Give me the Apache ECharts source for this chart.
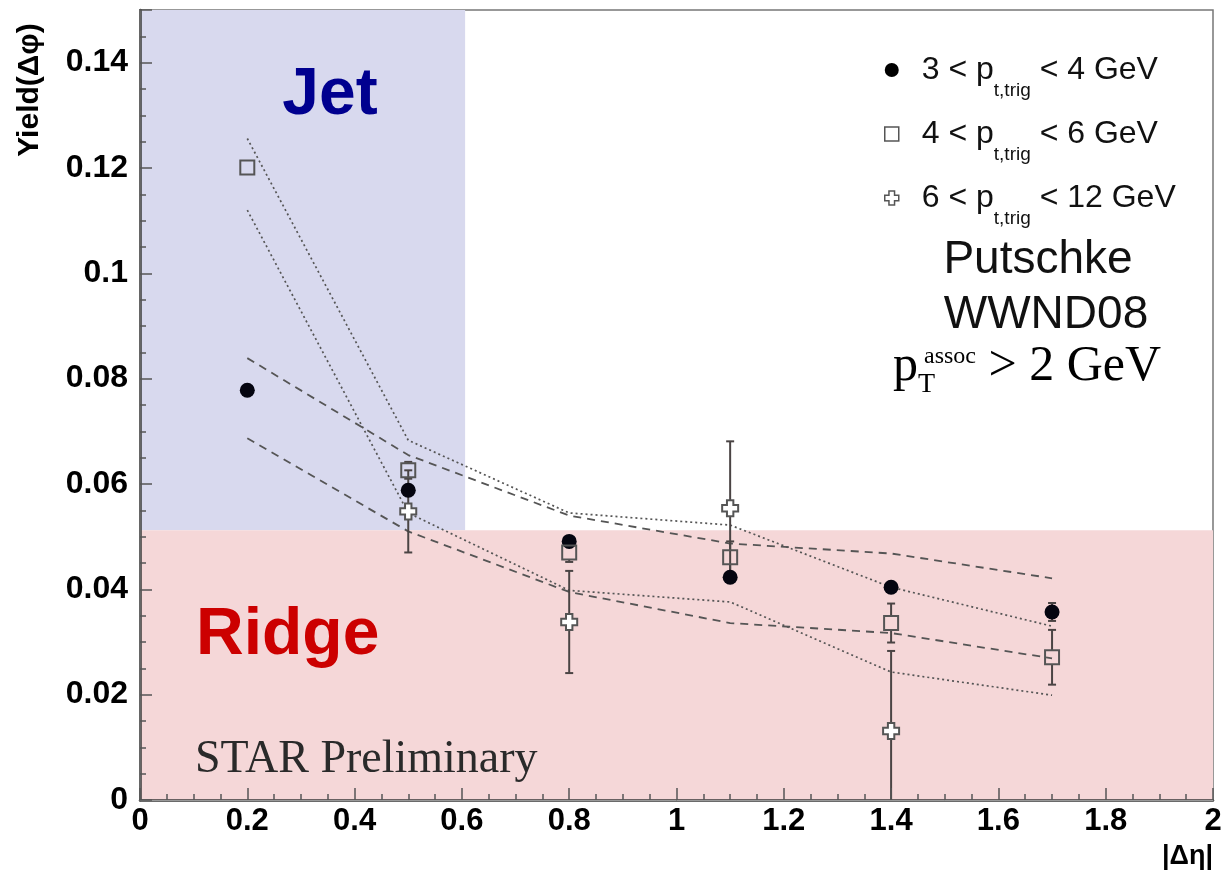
<!DOCTYPE html>
<html>
<head>
<meta charset="utf-8">
<script src="https://cdn.jsdelivr.net/npm/echarts@6/dist/echarts.min.js"></script>
<style>
  html, body { margin: 0; padding: 0; background: #fff; }
  #chart { width: 1226px; height: 871px; }
</style>
</head>
<body>
<div id="chart"></div>
<script>
// |delta eta| bins
const etaBins = [0.2, 0.5, 0.8, 1.1, 1.4, 1.7];
// 3 < pt,trig < 4 GeV
const yield34 = [0.0778, 0.0588, 0.0491, 0.0423, 0.0404, 0.0357];
const err34 = [0.001, 0.001, 0.001, 0.001, 0.001, 0.0017];
// 4 < pt,trig < 6 GeV
const yield46 = [0.1201, 0.0626, 0.0470, 0.0461, 0.0336, 0.0271];
const err46 = [0.001, 0.0016, 0.0018, 0.0030, 0.0037, 0.0052];
// 6 < pt,trig < 12 GeV
const eta612 = [0.5, 0.8, 1.1, 1.4];
const yield612 = [0.0548, 0.0338, 0.0554, 0.0131];
const err612 = [0.0078, 0.0097, 0.0127, 0.0152];
// model curves
const dashHigh = [0.0839, 0.0655, 0.0540, 0.0487, 0.0468, 0.0421];
const dashLow = [0.0687, 0.0510, 0.0395, 0.0336, 0.0317, 0.0269];
const dotHigh = [0.1256, 0.0683, 0.0545, 0.0522, 0.0404, 0.0330];
const dotLow = [0.1120, 0.0545, 0.0398, 0.0376, 0.0243, 0.0199];
// shaded regions [x0, x1, y0, y1]
const jetBox = [0, 0.606, 0.0512, 0.15];
const ridgeBox = [0, 2, 0, 0.0512];

const legendText = {
  '3-4': '{gap| }3 < p{sub|t,trig} < 4 GeV',
  '4-6': '{gap| }4 < p{sub|t,trig} < 6 GeV',
  '6-12': '{gap| }6 < p{sub|t,trig} < 12 GeV'
};
const crossPath = 'path://M-1.2,-3L1.2,-3L1.2,-1.2L3,-1.2L3,1.2L1.2,1.2L1.2,3L-1.2,3L-1.2,1.2L-3,1.2L-3,-1.2L-1.2,-1.2Z';
const sans = 'Liberation Sans, Arial, sans-serif';
const serif = 'Liberation Serif, Times New Roman, serif';
const ink = '#4a4444';

function pairs(xs, ys) {
  return xs.map((x, i) => [x, ys[i]]);
}

function errorBars(xs, ys, es, r) {
  return {
    type: 'custom',
    silent: true,
    z: 4,
    data: xs.map((x, i) => [x, ys[i], es[i]]),
    renderItem: function (params, api) {
      const x = api.value(0), y = api.value(1), e = api.value(2);
      const mid = api.coord([x, y]);
      const top = api.coord([x, y + e]);
      const bot = api.coord([x, Math.max(y - e, 0)]);
      const style = { stroke: ink, lineWidth: 2 };
      const kids = [];
      if (top[1] < mid[1] - r) {
        kids.push({ type: 'line', shape: { x1: mid[0], y1: top[1], x2: mid[0], y2: mid[1] - r }, style: style });
        kids.push({ type: 'line', shape: { x1: mid[0] - 4, y1: top[1], x2: mid[0] + 4, y2: top[1] }, style: style });
      }
      if (bot[1] > mid[1] + r) {
        kids.push({ type: 'line', shape: { x1: mid[0], y1: mid[1] + r, x2: mid[0], y2: bot[1] }, style: style });
        if (y - e > 0) {
          kids.push({ type: 'line', shape: { x1: mid[0] - 4, y1: bot[1], x2: mid[0] + 4, y2: bot[1] }, style: style });
        }
      }
      return { type: 'group', children: kids };
    }
  };
}

function modelLine(vals, dash, w) {
  return {
    type: 'line',
    data: pairs(etaBins, vals),
    symbol: 'none',
    silent: true,
    z: 3,
    lineStyle: { color: '#555', width: w, type: dash }
  };
}

const chart = echarts.init(document.getElementById('chart'));

const option = {
  backgroundColor: '#fff',
  animation: false,
  grid: { left: 140, right: 13, top: 10, bottom: 71, show: true, borderColor: '#777', borderWidth: 1.5 },
  legend: {
    orient: 'vertical',
    left: 879,
    top: 35,
    itemWidth: 14,
    itemHeight: 14,
    itemGap: 4,
    selectedMode: false,
    data: [
      { name: '3-4', icon: 'circle', itemStyle: { color: '#000', borderWidth: 0 } },
      { name: '4-6', icon: 'rect', itemStyle: { color: 'rgba(0,0,0,0)', borderColor: '#555', borderWidth: 1.5 } },
      { name: '6-12', icon: crossPath, itemStyle: { color: '#fff', borderColor: '#555', borderWidth: 1.5 } }
    ],
    formatter: function (n) { return legendText[n]; },
    textStyle: {
      fontFamily: sans,
      fontSize: 32,
      color: '#111',
      lineHeight: 60,
      rich: {
        gap: { width: 18, fontSize: 10 },
        sub: { fontSize: 19, fontFamily: sans, color: '#111', lineHeight: 22, verticalAlign: 'bottom' }
      }
    }
  },
  xAxis: [{
    type: 'value',
    min: 0,
    max: 2,
    interval: 0.2,
    z: 5,
    axisLine: { show: true, onZero: false, lineStyle: { color: '#3a3a3a', width: 2.5 } },
    axisTick: { show: true, inside: true, length: 12, lineStyle: { color: '#555', width: 1.5 } },
    minorTick: { show: true, splitNumber: 4, length: 6, lineStyle: { color: '#555', width: 1.5 } },
    splitLine: { show: false },
    axisLabel: { fontFamily: sans, fontWeight: 'bold', fontSize: 31, color: '#000', margin: 6 }
  }, {
    type: 'value',
    position: 'top',
    min: 0,
    max: 2,
    z: 5,
    axisLine: { show: true, lineStyle: { color: '#999', width: 1 } },
    axisTick: { show: false },
    axisLabel: { show: false },
    splitLine: { show: false }
  }],
  yAxis: [{
    type: 'value',
    min: 0,
    max: 0.15,
    interval: 0.02,
    z: 5,
    axisLine: { show: true, onZero: false, lineStyle: { color: '#3a3a3a', width: 2.5 } },
    axisTick: { show: true, inside: true, length: 12, lineStyle: { color: '#555', width: 1.5 } },
    minorTick: { show: true, splitNumber: 4, length: 6, lineStyle: { color: '#555', width: 1.5 } },
    splitLine: { show: false },
    axisLabel: { fontFamily: sans, fontWeight: 'bold', fontSize: 32, color: '#000', margin: 12, showMaxLabel: false }
  }, {
    type: 'value',
    position: 'right',
    min: 0,
    max: 0.15,
    z: 5,
    axisLine: { show: true, lineStyle: { color: '#666', width: 2 } },
    axisTick: { show: false },
    axisLabel: { show: false },
    splitLine: { show: false }
  }],
  series: [
    {
      type: 'line',
      data: [],
      silent: true,
      z: 1,
      markArea: {
        silent: true,
        data: [
          [{ xAxis: jetBox[0], yAxis: jetBox[2], itemStyle: { color: '#d8d9ee' } }, { xAxis: jetBox[1], yAxis: jetBox[3] }],
          [{ xAxis: ridgeBox[0], yAxis: ridgeBox[2], itemStyle: { color: '#f5d7d8' } }, { xAxis: ridgeBox[1], yAxis: ridgeBox[3] }]
        ]
      }
    },
    modelLine(dashHigh, [8, 6], 1.8),
    modelLine(dashLow, [8, 6], 1.8),
    modelLine(dotHigh, [2, 3], 1.7),
    modelLine(dotLow, [2, 3], 1.7),
    errorBars(etaBins, yield34, err34, 7),
    errorBars(etaBins, yield46, err46, 7),
    errorBars(eta612, yield612, err612, 8),
    {
      name: '3-4',
      type: 'scatter',
      z: 6,
      symbol: 'circle',
      symbolSize: 15,
      data: pairs(etaBins, yield34),
      itemStyle: { color: '#050510', opacity: 1 }
    },
    {
      name: '4-6',
      type: 'scatter',
      z: 6,
      symbol: 'rect',
      symbolSize: 14,
      data: pairs(etaBins, yield46),
      itemStyle: { color: 'rgba(0,0,0,0)', borderColor: '#555', borderWidth: 2, opacity: 1 }
    },
    {
      name: '6-12',
      type: 'scatter',
      z: 6,
      symbol: crossPath,
      symbolSize: 16,
      data: pairs(eta612, yield612),
      itemStyle: { color: '#fff', borderColor: '#555', borderWidth: 2, opacity: 1 }
    }
  ],
  graphic: [
    {
      type: 'text', x: 330, y: 96, z: 10, silent: true,
      style: { text: 'Jet', fontFamily: sans, fontWeight: 'bold', fontSize: 66, fill: '#00008f', align: 'center', verticalAlign: 'middle' }
    },
    {
      type: 'text', x: 196, y: 636, z: 10, silent: true,
      style: { text: 'Ridge', fontFamily: sans, fontWeight: 'bold', fontSize: 66, fill: '#cc0000', align: 'left', verticalAlign: 'middle' }
    },
    {
      type: 'text', x: 195, y: 760, z: 10, silent: true,
      style: { text: 'STAR Preliminary', fontFamily: serif, fontSize: 46, fill: '#2a2a2a', align: 'left', verticalAlign: 'middle' }
    },
    {
      type: 'text', x: 1038, y: 260, z: 10, silent: true,
      style: { text: 'Putschke', fontFamily: sans, fontSize: 46, fill: '#111', align: 'center', verticalAlign: 'middle' }
    },
    {
      type: 'text', x: 1046, y: 315, z: 10, silent: true,
      style: { text: 'WWND08', fontFamily: sans, fontSize: 46, fill: '#111', align: 'center', verticalAlign: 'middle' }
    },
    {
      type: 'text', x: 893, y: 367, z: 10, silent: true,
      style: {
        text: '{p|p}{t|T}{a|assoc}{g| > 2 GeV}',
        align: 'left',
        verticalAlign: 'middle',
        rich: {
          p: { fontFamily: serif, fontSize: 50, fill: '#000', lineHeight: 64, verticalAlign: 'middle' },
          t: { fontFamily: serif, fontSize: 28, fill: '#000', lineHeight: 26, verticalAlign: 'bottom', width: 6 },
          a: { fontFamily: serif, fontSize: 24, fill: '#000', lineHeight: 30, verticalAlign: 'top', padding: [10, 0, 0, 0] },
          g: { fontFamily: serif, fontSize: 50, fill: '#000', lineHeight: 64, verticalAlign: 'middle' }
        }
      }
    },
    {
      type: 'text', x: 30, y: 90, z: 10, silent: true, rotation: Math.PI / 2,
      style: { text: 'Yield(\u0394\u03c6)', fontFamily: sans, fontWeight: 'bold', fontSize: 30, fill: '#000', align: 'center', verticalAlign: 'middle' }
    },
    {
      type: 'text', x: 1213, y: 857, z: 10, silent: true,
      style: { text: '|\u0394\u03b7|', fontFamily: sans, fontWeight: 'bold', fontSize: 27, fill: '#000', align: 'right', verticalAlign: 'middle' }
    }
  ]
};

chart.setOption(option);
</script>
</body>
</html>
